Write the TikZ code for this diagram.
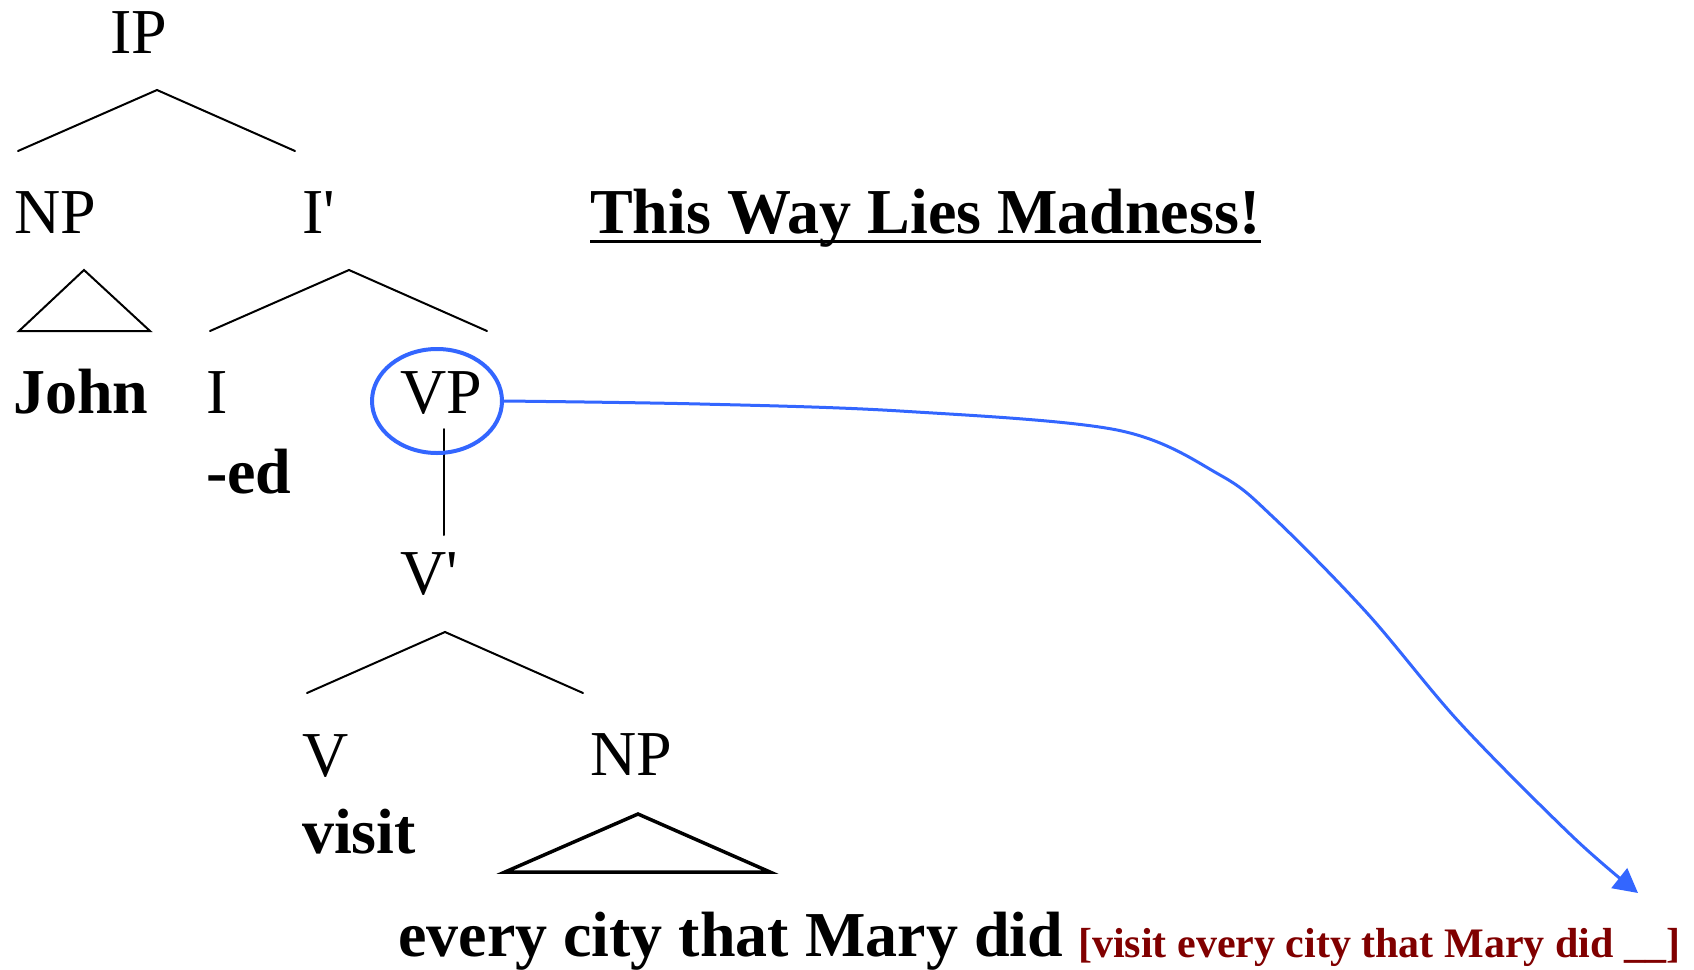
\documentclass[tikz,border=0pt]{standalone}
\usepackage{fontspec}
\setmainfont{Liberation Serif}[Ligatures=TeXOff]
\usetikzlibrary{arrows.meta,shapes.geometric}
\definecolor{vpblue}{RGB}{51,102,255}
\definecolor{darkred}{RGB}{128,0,0}
\begin{document}
\begin{tikzpicture}[x=1pt,y=-1pt,
  lbl/.style={anchor=base west,inner sep=0pt,font=\fontsize{64}{70}\selectfont},
  word/.style={anchor=base west,inner sep=0pt,font=\fontsize{64}{70}\selectfont\bfseries},
  branch/.style={line width=2pt,line cap=round},
  bigtri/.style={line width=3.5pt,line join=miter},
  movearrow/.style={draw=vpblue,line width=3pt,-{Triangle[length=24pt,width=25pt]}}]
\useasboundingbox (0,0) rectangle (1694,969);

% labels
\node[lbl] (IP) at (110,53) {IP};
\node[lbl] (NP1) at (14,233) {NP};
\node[lbl] (Ibar) at (302,233) {I'};
\node[word] (john) at (13,413) {John};
\node[lbl] (I) at (206,413) {I};
\node[lbl] (VP) at (400,413) {VP};
\node[word] (ed) at (206,493) {-ed};
\node[lbl] (Vbar) at (400,594) {V'};
\node[lbl] (V) at (302,776) {V};
\node[lbl] (NP2) at (590,775) {NP};
\node[word] (visit) at (302,853) {visit};
\node[word] (every) at (398,956) {every city that Mary did};
\node[anchor=base west,inner sep=0pt,font=\fontsize{42}{46}\selectfont\bfseries,text=darkred] (copy) at (1078,957) {[visit every city that Mary did \_\_]};
\node[word] (title) at (590,233) {This Way Lies Madness!};
\draw[line width=3pt] ([yshift=-8pt]title.base west) -- ([yshift=-8pt]title.base east);

% branch points
\coordinate (ipA) at (157,90);
\coordinate (ipL) at (18,151);
\coordinate (ipR) at (295,151);
\coordinate (npA) at (84,270);
\coordinate (npL) at (19,331);
\coordinate (npR) at (150,331);
\coordinate (ibA) at (349,270);
\coordinate (ibL) at (210,331);
\coordinate (ibR) at (487,331);
\coordinate (vpT) at (444,429);
\coordinate (vpB) at (444,535);
\coordinate (vbA) at (445,632);
\coordinate (vbL) at (307,693);
\coordinate (vbR) at (583,693);
\coordinate (np2A) at (638,814);
\coordinate (np2L) at (505,872);
\coordinate (np2R) at (770,872);

\draw[branch] (ipL) -- (ipA) -- (ipR);
\draw[branch,line join=miter] (npL) -- (npA) -- (npR) -- cycle;
\draw[branch] (ibL) -- (ibA) -- (ibR);
\draw[branch] (vpT) -- (vpB);
\draw[branch] (vbL) -- (vbA) -- (vbR);
\draw[bigtri] (np2L) -- (np2A) -- (np2R) -- cycle;

% circled VP and movement arrow
\node[draw=vpblue,line width=4pt,ellipse,minimum width=130pt,minimum height=104pt,inner sep=0pt] (vpc) at (437,401) {};
\coordinate (tip) at (1638,893);
\draw[movearrow] plot[smooth,tension=0.55] coordinates {(vpc.east) (700,404) (900,411) (1117,430) (1220,475) (1273,517) (1367,613) (1460,723) (1573,837) (tip)};
\end{tikzpicture}
\end{document}
